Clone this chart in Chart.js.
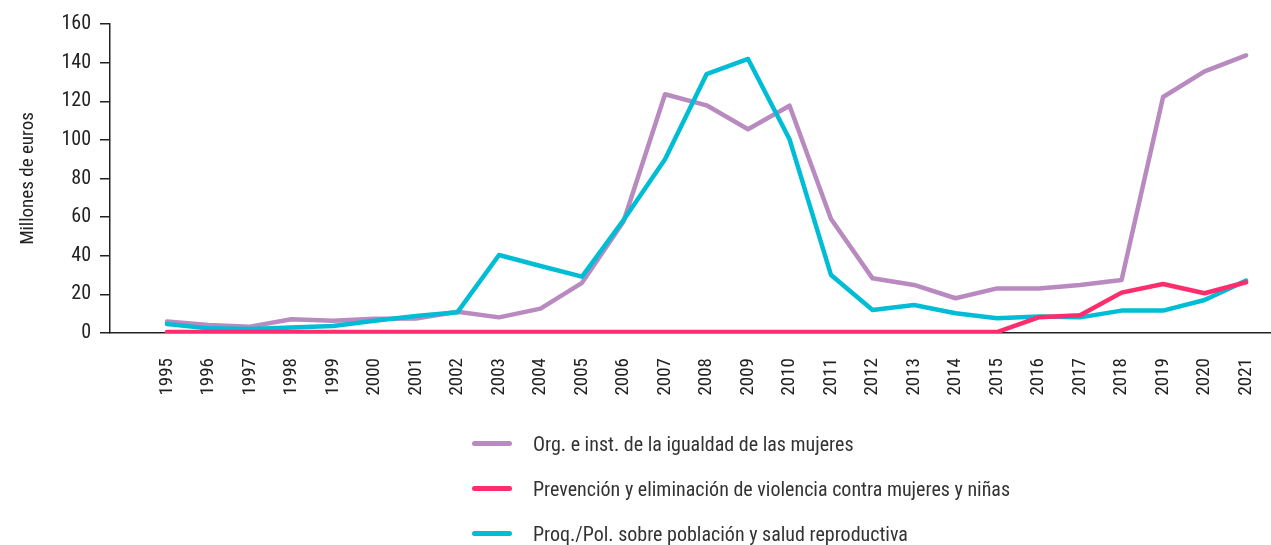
<!DOCTYPE html>
<html lang="es">
<head>
<meta charset="utf-8">
<title>Millones de euros</title>
<script src="https://cdn.jsdelivr.net/npm/chart.js@4/dist/chart.umd.min.js"></script>
<style>
  html, body { margin: 0; padding: 0; background: #fff; }
  #wrap { position: relative; width: 1271px; height: 545px; }
  #legend {
    position: absolute; left: 472px; top: 421px;
    font-family: Roboto, sans-serif; font-stretch: condensed;
    font-size: 20px; color: #333;
  }
  #legend .item { display: flex; align-items: center; height: 45px; }
  #legend .swatch { width: 40px; height: 5px; border-radius: 3px; margin-right: 21px; }
</style>
</head>
<body>
<div id="wrap">
  <canvas id="myChart" width="1271" height="545"></canvas>
  <div id="legend"></div>
</div>
<script>
// "condensed" va en el campo weight para que Chart.js lo meta en ctx.font
const FONT = { family: 'Roboto, sans-serif', weight: 'condensed', size: 19 };

// Años
const years = [1995, 1996, 1997, 1998, 1999, 2000, 2001, 2002, 2003, 2004, 2005, 2006, 2007,
  2008, 2009, 2010, 2011, 2012, 2013, 2014, 2015, 2016, 2017, 2018, 2019, 2020, 2021];

// Millones de euros por sector
const igualdad = [5.9, 4.1, 3.3, 7.1, 6.4, 7.4, 7.5, 11.0, 8.1, 12.6, 26.0, 57.7, 123.6,
  117.9, 105.5, 117.7, 59.0, 28.3, 24.9, 18.0, 23.1, 23.1, 24.9, 27.4, 122.2, 135.5, 143.8];
const violencia = [0.5, 0.5, 0.5, 0.5, 0.5, 0.5, 0.5, 0.5, 0.5, 0.5, 0.5, 0.5, 0.5,
  0.5, 0.5, 0.5, 0.5, 0.5, 0.5, 0.5, 0.5, 8.1, 9.2, 20.9, 25.4, 20.6, 26.3];
const salud = [4.7, 2.4, 2.1, 2.8, 3.6, 6.3, 8.8, 10.8, 40.4, 34.7, 29.2, 58.5, 90.0,
  134.0, 141.9, 100.3, 30.0, 11.9, 14.5, 10.2, 7.6, 8.5, 8.1, 11.6, 11.6, 17.1, 27.1];

const seriesNames = [
  'Org. e inst. de la igualdad de las mujeres',
  'Prevención y eliminación de violencia contra mujeres y niñas',
  'Proq./Pol. sobre población y salud reproductiva'
];
const seriesColors = ['#b98abf', '#ff2d6d', '#00bdd6'];

function toPoints(values) {
  return years.map((y, i) => ({ x: y, y: values[i] }));
}

function lineSet(i, values, order) {
  return {
    label: seriesNames[i],
    data: toPoints(values),
    borderColor: seriesColors[i],
    backgroundColor: seriesColors[i],
    borderWidth: 4.5,
    borderCapStyle: 'round',
    borderJoinStyle: 'round',
    pointRadius: 0,
    tension: 0,
    fill: false,
    order: order
  };
}

const ctx = document.getElementById('myChart');
const myChart = new Chart(ctx, {
  type: 'line',
  data: {
    datasets: [
      lineSet(0, igualdad, 2),
      lineSet(1, violencia, 0),
      lineSet(2, salud, 1)
    ]
  },
  options: {
    responsive: false,
    animation: false,
    layout: { padding: { top: 24, right: 0, left: 0, bottom: 0 } },
    plugins: {
      legend: { display: false },
      tooltip: { enabled: false }
    },
    scales: {
      x: {
        type: 'linear',
        min: 1993.627,
        max: 2021.6,
        grid: { display: false },
        border: { display: true, color: '#222', width: 1.5 },
        afterBuildTicks: (scale) => {
          scale.ticks = years.map(v => ({ value: v }));
        },
        afterFit: (scale) => {
          scale.height = 212;
          scale.paddingLeft = 0;
          scale.paddingRight = 0;
        },
        ticks: {
          autoSkip: false,
          maxRotation: 90,
          minRotation: 90,
          padding: 17,
          color: '#222',
          font: FONT,
          callback: (v) => String(v)
        }
      },
      y: {
        min: 0,
        max: 160,
        afterFit: (scale) => { scale.width = 110; },
        grid: { drawOnChartArea: false, drawTicks: true, tickLength: 10, color: '#222', lineWidth: 1.5 },
        border: { display: true, color: '#222', width: 1.5 },
        ticks: {
          stepSize: 20,
          padding: 9,
          color: '#222',
          font: { ...FONT, size: 20 }
        },
        title: {
          display: true,
          text: 'Millones de euros',
          color: '#222',
          padding: { top: 17, bottom: 0 },
          font: FONT
        }
      }
    }
  }
});

// Leyenda en columna bajo el gráfico
const legendBox = document.getElementById('legend');
myChart.data.datasets.forEach((ds) => {
  const item = document.createElement('div');
  item.className = 'item';
  const sw = document.createElement('span');
  sw.className = 'swatch';
  sw.style.background = ds.borderColor;
  const txt = document.createElement('span');
  txt.textContent = ds.label;
  item.appendChild(sw);
  item.appendChild(txt);
  legendBox.appendChild(item);
});
</script>
</body>
</html>
